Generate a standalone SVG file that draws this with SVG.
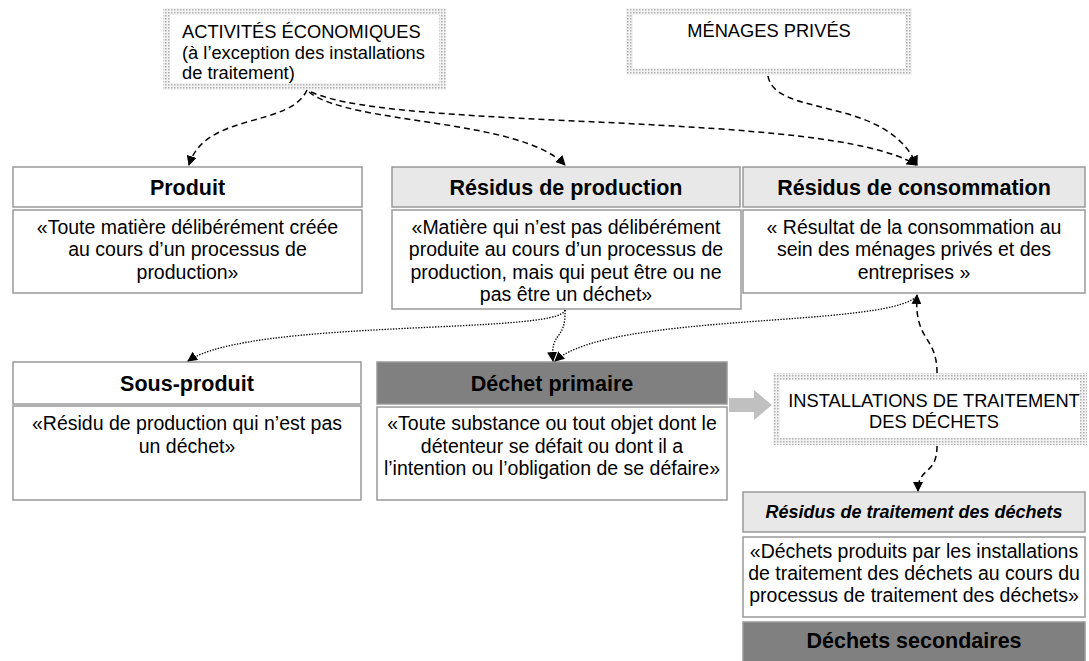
<svg xmlns="http://www.w3.org/2000/svg" width="1089" height="661" viewBox="0 0 1089 661">
<style>
text{font-family:"Liberation Sans",Arial,sans-serif;fill:#000}
.b{stroke:#999;stroke-width:1.5;fill:#fff}
.lg{fill:#e8e8e8}
.dk{fill:#808080}
.h{font-size:21.5px;font-weight:bold;text-anchor:middle}
.hi{font-size:18px;font-weight:bold;font-style:italic;text-anchor:middle}
.d{font-size:19.5px;text-anchor:middle}
.u{font-size:18.3px}
.dash{fill:none;stroke:#000;stroke-width:1.5;stroke-dasharray:6 4}
.dot{fill:none;stroke:#000;stroke-width:1.3;stroke-dasharray:1.4 1.4}
</style>
<defs>
<pattern id="stip" width="3" height="3" patternUnits="userSpaceOnUse">
<rect width="3" height="3" fill="#f2f2f2"/>
<rect width="1.5" height="1.5" fill="#b0b0b0"/>
</pattern>
<marker id="ah" viewBox="0 0 10 10" refX="9" refY="5" markerWidth="10" markerHeight="10" markerUnits="userSpaceOnUse" orient="auto">
<path d="M0,0 L10,5 L0,10 z" fill="#000"/>
</marker>
</defs>

<g id="activites">
<rect x="163" y="8" width="283" height="82" fill="url(#stip)"/>
<rect x="170" y="15" width="269" height="68" fill="#fff"/>
<text class="u" x="182" y="38">ACTIVITÉS ÉCONOMIQUES</text>
<text class="u" x="182" y="58.5">(à l’exception des installations</text>
<text class="u" x="182" y="79">de traitement)</text>
</g>

<g id="menages">
<rect x="626" y="8" width="286" height="67" fill="url(#stip)"/>
<rect x="633" y="15" width="272" height="53" fill="#fff"/>
<text class="u" x="769" y="37" text-anchor="middle">MÉNAGES PRIVÉS</text>
</g>

<g id="produit">
<rect class="b" x="13" y="167" width="349" height="40"/>
<text class="h" x="187.5" y="194.5">Produit</text>
<rect class="b" x="13" y="210" width="349" height="83"/>
<text class="d" x="187.5" y="233.5">«Toute matière délibérément créée</text>
<text class="d" x="187.5" y="256">au cours d’un processus de</text>
<text class="d" x="187.5" y="278.5">production»</text>
</g>

<g id="residus-production">
<rect class="b lg" x="392" y="167" width="348" height="40"/>
<text class="h" x="566" y="194.5">Résidus de production</text>
<rect class="b" x="392" y="210" width="349" height="99"/>
<text class="d" x="566" y="233.5">«Matière qui n’est pas délibérément</text>
<text class="d" x="566" y="256">produite au cours d’un processus de</text>
<text class="d" x="566" y="278.5">production, mais qui peut être ou ne</text>
<text class="d" x="566" y="301">pas être un déchet»</text>
</g>

<g id="residus-consommation">
<rect class="b lg" x="743" y="167" width="342" height="40"/>
<text class="h" x="914" y="194.5">Résidus de consommation</text>
<rect class="b" x="743" y="210" width="342" height="83"/>
<text class="d" x="914" y="233.5">« Résultat de la consommation au</text>
<text class="d" x="914" y="256">sein des ménages privés et des</text>
<text class="d" x="914" y="278.5">entreprises »</text>
</g>

<g id="sous-produit">
<rect class="b" x="13" y="362" width="348" height="42"/>
<text class="h" x="187" y="390.5">Sous-produit</text>
<rect class="b" x="13" y="406" width="348" height="94"/>
<text class="d" x="187" y="430">«Résidu de production qui n’est pas</text>
<text class="d" x="187" y="452.5">un déchet»</text>
</g>

<g id="dechet-primaire">
<rect class="b dk" x="377" y="362" width="350" height="42"/>
<text class="h" x="552" y="390.5">Déchet primaire</text>
<rect class="b" x="377" y="407" width="350" height="93"/>
<text class="d" x="552" y="430">«Toute substance ou tout objet dont le</text>
<text class="d" x="552" y="452.5">détenteur se défait ou dont il a</text>
<text class="d" x="552" y="475">l’intention ou l’obligation de se défaire»</text>
</g>

<g id="installations">
<rect x="773" y="373" width="314" height="72" fill="url(#stip)"/>
<rect x="780" y="380" width="300" height="58" fill="#fff"/>
<text class="u" x="934" y="407" text-anchor="middle">INSTALLATIONS DE TRAITEMENT</text>
<text class="u" x="934" y="428" text-anchor="middle">DES DÉCHETS</text>
</g>

<g id="residus-traitement">
<rect class="b lg" x="743" y="492" width="342" height="40"/>
<text class="hi" x="914" y="518">Résidus de traitement des déchets</text>
<rect class="b" x="743" y="537" width="342" height="80"/>
<text class="d" x="914" y="557.5">«Déchets produits par les installations</text>
<text class="d" x="914" y="579.5">de traitement des déchets au cours du</text>
<text class="d" x="914" y="601.5">processus de traitement des déchets»</text>
</g>

<g id="dechets-secondaires">
<rect class="b dk" x="743" y="622" width="342" height="42"/>
<text class="h" x="914" y="648">Déchets secondaires</text>
</g>

<g id="connectors">
<path class="dash" d="M307,90 C290,128 205,112 189,165" marker-end="url(#ah)"/>
<path class="dash" d="M309,92 C350,125 520,118 565,165" marker-end="url(#ah)"/>
<path class="dash" d="M311,92 C400,132 830,110 916,165" marker-end="url(#ah)"/>
<path class="dash" d="M768,76 C775,118 885,95 917,165" marker-end="url(#ah)"/>
<path class="dot" d="M565,310 C560,335 250,318 188,361" marker-end="url(#ah)"/>
<path class="dot" d="M565,310 C566,342 550,330 553,361" marker-end="url(#ah)"/>
<path class="dot" d="M916,297 C880,328 610,312 555,361" marker-end="url(#ah)"/>
<path class="dash" d="M937,373 C937,335 914,342 917,295" marker-end="url(#ah)"/>
<path class="dash" d="M937,446 C937,476 918,466 918,491" marker-end="url(#ah)"/>
<polygon points="729,398 754,398 754,390 772,405 754,420 754,412 729,412" fill="#c0c0c0"/>
</g>
</svg>
